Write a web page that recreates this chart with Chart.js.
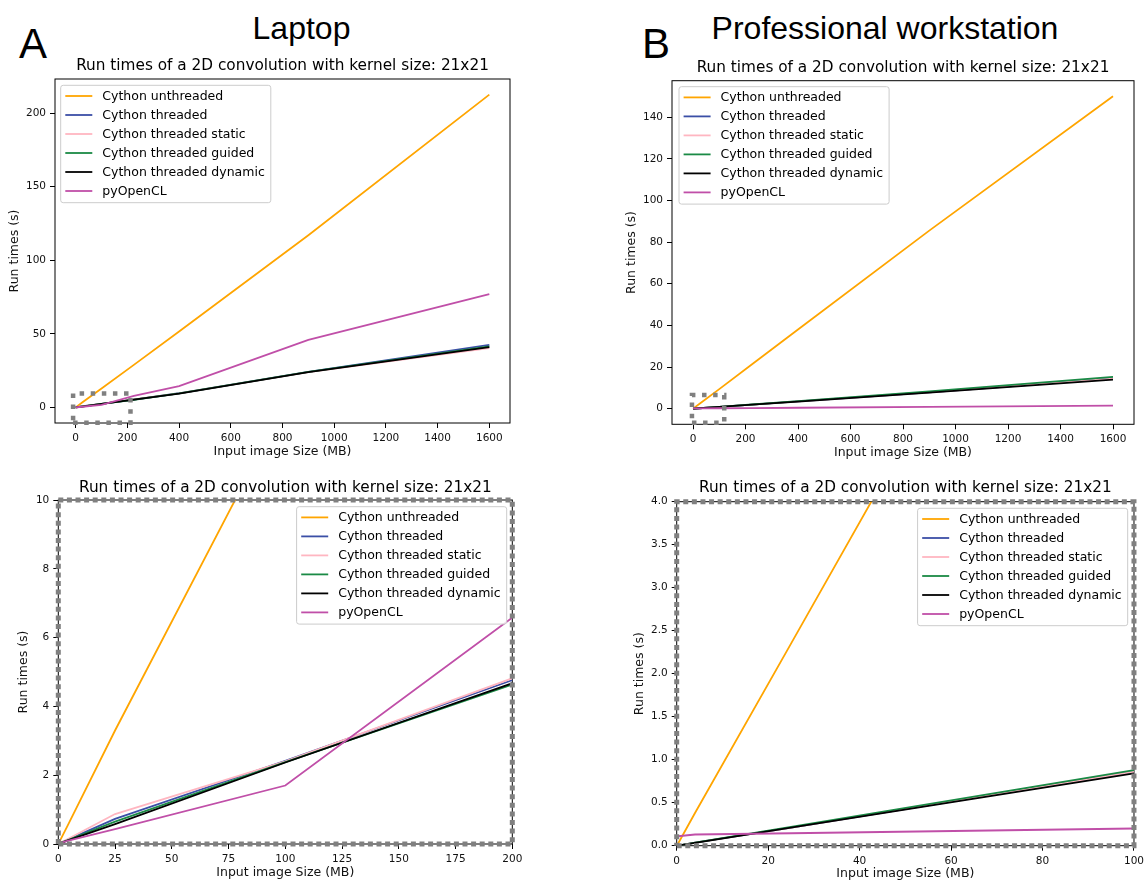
<!DOCTYPE html>
<html>
<head>
<meta charset="utf-8">
<script src="https://cdn.jsdelivr.net/npm/chart.js@4.4.1/dist/chart.umd.min.js"></script>
<style>
  html, body { margin: 0; padding: 0; background: #fff; }
  body { width: 1148px; height: 882px; position: relative; overflow: hidden; font-family: "Liberation Sans", Arial, sans-serif; }
  canvas { position: absolute; }
  .lbl { position: absolute; line-height: 1; white-space: nowrap; color: #000; }
</style>
</head>
<body>
<div class="lbl" style="left:19px;top:22.5px;font-size:42px">A</div>
<div class="lbl" style="left:642px;top:22.5px;font-size:42px">B</div>
<div class="lbl" style="left:151.5px;width:300px;text-align:center;top:12px;font-size:32px">Laptop</div>
<div class="lbl" style="left:685px;width:400px;text-align:center;top:12px;font-size:32px">Professional workstation</div>

<canvas id="lapFull"></canvas>
<canvas id="wsFull"></canvas>
<canvas id="lapZoom"></canvas>
<canvas id="wsZoom"></canvas>

<script>
// image sizes (MB) at which run times were measured
const sizesMB = [0.25, 4, 25, 100, 225, 400, 900, 1600];

const seriesNames = ['Cython unthreaded', 'Cython threaded', 'Cython threaded static',
  'Cython threaded guided', 'Cython threaded dynamic', 'pyOpenCL'];

// Laptop run times (s)
const lapUnthreaded = [0.03, 0.52, 3.3, 12.8, 28.9, 51.5, 117, 212.5];
const lapThreaded   = [0.01, 0.12, 0.73, 2.42, 5.35, 9.6, 24.2, 42.5];
const lapStatic     = [0.01, 0.14, 0.87, 2.40, 5.42, 9.5, 24.0, 40.3];
const lapGuided     = [0.01, 0.11, 0.65, 2.38, 5.2, 9.5, 24.1, 41.5];
const lapDynamic    = [0.01, 0.10, 0.58, 2.37, 5.25, 9.4, 24.0, 41.0];
const lapOpenCL     = [0.02, 0.09, 0.43, 1.7, 7.8, 14.5, 45.8, 77.0];

// Professional workstation run times (s)
const wsUnthreaded = [0.02, 0.38, 2.35, 9.4, 21.3, 38.0, 85.5, 150.0];
const wsThreaded   = [0.0, 0.035, 0.21, 0.86, 1.95, 3.5, 7.9, 14.5];
const wsStatic     = [0.0, 0.035, 0.21, 0.86, 1.95, 3.5, 7.9, 14.4];
const wsGuided     = [0.0, 0.036, 0.22, 0.88, 2.0, 3.6, 8.3, 15.3];
const wsDynamic    = [0.0, 0.034, 0.21, 0.84, 1.9, 3.4, 7.7, 14.0];
const wsOpenCL     = [0.11, 0.13, 0.145, 0.20, 0.30, 0.45, 0.9, 1.45];

// zoom-region outlines (data units)
const lapBoxX = [-10, 212, 212, -10, -10];
const lapBoxY = [-10.5, -10.5, 9.5, 9.5, -10.5];
const wsBoxX  = [-4, 119, 119, -4, -4];
const wsBoxY  = [-6.7, -6.7, 6.6, 6.6, -6.7];
const lapZoomX = [0, 200, 200, 0, 0];
const lapZoomY = [0, 0, 10, 10, 0];
const wsZoomX  = [0, 100, 100, 0, 0];
const wsZoomY  = [0, 0, 4, 4, 0];

// tick labels
const xTicksFull = [0, 200, 400, 600, 800, 1000, 1200, 1400, 1600];
const yTicksLap  = [0, 50, 100, 150, 200];
const yTicksWs   = [0, 20, 40, 60, 80, 100, 120, 140];
const xTicksLapZoom = [0, 25, 50, 75, 100, 125, 150, 175, 200];
const yTicksLapZoom = [0, 2, 4, 6, 8, 10];
const xTicksWsZoom  = [0, 20, 40, 60, 80, 100];
const yTicksWsZoom  = [0, 0.5, 1, 1.5, 2, 2.5, 3, 3.5, 4];

const colors = ['#ffa500', '#3b4fa6', '#ffb6c1', '#1a8a45', '#000000', '#c04fa8'];
const FONT = '"DejaVu Sans", sans-serif';
const TITLE = 'Run times of a 2D convolution with kernel size: 21x21';

function series(rows) {
  return rows.map((ys, i) => ({
    label: seriesNames[i],
    data: sizesMB.map((x, j) => ({ x, y: ys[j] })),
    borderColor: colors[i], backgroundColor: colors[i],
    borderWidth: 1.8, pointRadius: 0, tension: 0, fill: false,
    order: -i
  }));
}

function outline(xs, ys, width, dash) {
  return {
    isBox: true, label: '',
    data: xs.map((x, i) => ({ x, y: ys[i] })),
    borderColor: '#808080', borderWidth: width, borderDash: dash,
    borderCapStyle: 'butt', borderJoinStyle: 'miter',
    pointRadius: 0, tension: 0, fill: false, clip: false, order: -10
  };
}

// all four spines
const spines = {
  id: 'spines',
  beforeDatasetsDraw(chart) {
    const { ctx, chartArea: a } = chart;
    ctx.save();
    ctx.strokeStyle = '#000';
    ctx.lineWidth = 1;
    ctx.strokeRect(a.left, a.top, a.right - a.left, a.bottom - a.top);
    ctx.restore();
  }
};

// matplotlib style legend inside the axes
const mplLegend = {
  id: 'mplLegend',
  afterDraw(chart, args, opts) {
    const { ctx, chartArea: a } = chart;
    const items = chart.data.datasets.filter(d => !d.isBox);
    ctx.save();
    ctx.font = '12.5px ' + FONT;
    const textW = Math.max(...items.map(d => ctx.measureText(d.label).width));
    const w = 4.6 + 27 + 10 + textW + 6;
    const h = 117.4;
    const x = opts.corner === 'right' ? a.right - opts.dx - w : a.left + opts.dx;
    const y = a.top + opts.dy;
    ctx.beginPath();
    if (ctx.roundRect) ctx.roundRect(x, y, w, h, 2.5); else ctx.rect(x, y, w, h);
    ctx.fillStyle = 'rgba(255,255,255,0.8)';
    ctx.fill();
    ctx.strokeStyle = '#cccccc';
    ctx.lineWidth = 1;
    ctx.stroke();
    items.forEach((d, i) => {
      const ry = y + 10.7 + i * 19;
      ctx.strokeStyle = d.borderColor;
      ctx.lineWidth = d.borderWidth;
      ctx.beginPath();
      ctx.moveTo(x + 4.6, ry);
      ctx.lineTo(x + 31.6, ry);
      ctx.stroke();
      ctx.fillStyle = '#000';
      ctx.textBaseline = 'middle';
      ctx.fillText(d.label, x + 41.6, ry + 0.5);
    });
    ctx.restore();
  }
};

function makeChart(id, g, datasets, xr, yr, legend) {
  const el = document.getElementById(id);
  el.style.left = g.cl + 'px';
  el.style.top = g.ct + 'px';
  el.width = g.cw;
  el.height = g.ch;
  const LH = 15;
  const padLeft = g.yTitleX - LH / 2 - g.cl;
  const yWidth = g.l - g.cl - padLeft;
  const xHeight = g.xTitleY + LH / 2 - g.b;
  const tick = { color: '#111', font: { family: FONT, size: 10.5 }, padding: 4, maxRotation: 0, autoSkip: false };
  const grid = { drawOnChartArea: false, drawTicks: true, tickLength: 5, tickWidth: 1, tickColor: '#000' };
  const axisTitle = (text) => ({ display: true, text, color: '#111', padding: 0,
    font: { family: FONT, size: 12.5, lineHeight: LH + 'px' } });

  new Chart(el, {
    type: 'line',
    data: { datasets },
    options: {
      responsive: false,
      animation: false,
      devicePixelRatio: 1,
      layout: { padding: { left: padLeft, top: g.titleY - 9 - g.ct, right: g.cl + g.cw - g.r, bottom: g.ct + g.ch - g.b - xHeight } },
      plugins: {
        legend: { display: false },
        tooltip: { enabled: false },
        title: {
          display: true, text: TITLE, fullSize: false, color: '#000',
          font: { family: FONT, size: 15.3, weight: 'normal', lineHeight: '18px' },
          padding: { top: 0, bottom: g.t - (g.titleY + 9) }
        },
        mplLegend: legend
      },
      scales: {
        x: {
          type: 'linear', min: xr.min, max: xr.max,
          afterBuildTicks: s => { s.ticks = xr.ticks.map(v => ({ value: v })); },
          afterFit: s => { s.height = xHeight; },
          ticks: Object.assign({ callback: v => String(v) }, tick),
          grid, border: { display: false },
          title: axisTitle('Input image Size (MB)')
        },
        y: {
          type: 'linear', min: yr.min, max: yr.max,
          afterBuildTicks: s => { s.ticks = yr.ticks.map(v => ({ value: v })); },
          afterFit: s => { s.width = yWidth; },
          ticks: Object.assign({ callback: v => yr.fmt(v) }, tick),
          grid, border: { display: false },
          title: axisTitle('Run times (s)')
        }
      }
    },
    plugins: [spines, mplLegend]
  });
}

const plain = v => String(v);

makeChart('lapFull',
  { cl: 0, ct: 45, cw: 580, ch: 421, l: 55, t: 79, r: 510, b: 423, titleY: 66, yTitleX: 15, xTitleY: 451.5 },
  series([lapUnthreaded, lapThreaded, lapStatic, lapGuided, lapDynamic, lapOpenCL])
    .concat([outline(lapBoxX, lapBoxY, 4.5, [4.5, 6.6])]),
  { min: -80, max: 1680, ticks: xTicksFull },
  { min: -10.6, max: 223.1, ticks: yTicksLap, fmt: plain },
  { corner: 'left', dx: 5.7, dy: 6.3 });

makeChart('wsFull',
  { cl: 600, ct: 45, cw: 548, ch: 421, l: 672, t: 80.7, r: 1134, b: 424.3, titleY: 67.7, yTitleX: 632, xTitleY: 452.8 },
  series([wsUnthreaded, wsThreaded, wsStatic, wsGuided, wsDynamic, wsOpenCL])
    .concat([outline(wsBoxX, wsBoxY, 4.5, [4.5, 6.6])]),
  { min: -80, max: 1680, ticks: xTicksFull },
  { min: -7.5, max: 157.5, ticks: yTicksWs, fmt: plain },
  { corner: 'left', dx: 7, dy: 6 });

makeChart('lapZoom',
  { cl: 0, ct: 466, cw: 580, ch: 416, l: 58.3, t: 500, r: 512.3, b: 844, titleY: 488, yTitleX: 24, xTitleY: 872.5 },
  series([lapUnthreaded, lapThreaded, lapStatic, lapGuided, lapDynamic, lapOpenCL])
    .concat([outline(lapZoomX, lapZoomY, 5, [5, 3.6])]),
  { min: 0, max: 200, ticks: xTicksLapZoom },
  { min: 0, max: 10, ticks: yTicksLapZoom, fmt: plain },
  { corner: 'right', dx: 5.6, dy: 6.7 });

makeChart('wsZoom',
  { cl: 600, ct: 466, cw: 548, ch: 416, l: 676.7, t: 501.7, r: 1137, b: 845.7, titleY: 488, yTitleX: 639.3, xTitleY: 874 },
  series([wsUnthreaded, wsThreaded, wsStatic, wsGuided, wsDynamic, wsOpenCL])
    .concat([outline(wsZoomX, wsZoomY, 5, [5, 3.6])]),
  { min: 0, max: 100, ticks: xTicksWsZoom },
  { min: 0, max: 4, ticks: yTicksWsZoom, fmt: v => v.toFixed(1) },
  { corner: 'right', dx: 6.3, dy: 6.6 });
</script>
</body>
</html>
